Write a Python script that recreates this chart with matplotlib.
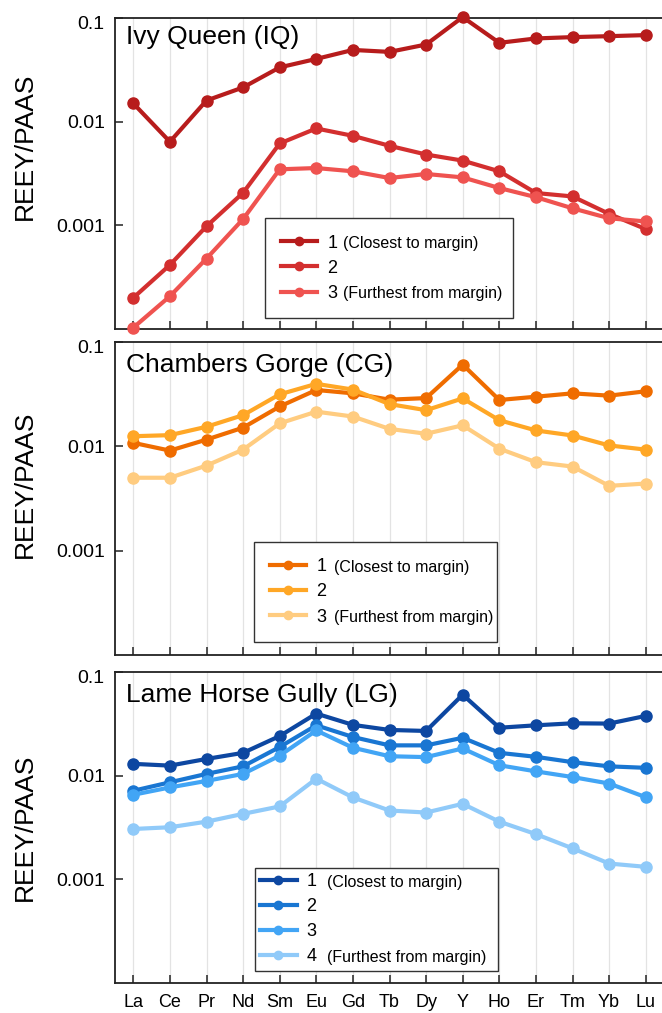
import matplotlib
matplotlib.use("Agg")
import matplotlib.pyplot as plt

plt.rcParams['font.family'] = ['Liberation Sans', 'DejaVu Sans']

# REE + Y normalised to PAAS
elements = ["La", "Ce", "Pr", "Nd", "Sm", "Eu", "Gd", "Tb", "Dy", "Y",
            "Ho", "Er", "Tm", "Yb", "Lu"]

y_ticks = [0.001, 0.01, 0.1]
y_tick_labels = ["0.001", "0.01", "0.1"]

# Ivy Queen (IQ)
iq_1 = [0.015, 0.0064, 0.016, 0.0214, 0.0334, 0.0403, 0.0492, 0.0471, 0.0555,
        0.102, 0.0576, 0.0635, 0.0654, 0.0668, 0.0684]
iq_2 = [0.0002, 0.000415, 0.00098, 0.00206, 0.00616, 0.0086, 0.0073, 0.00585,
        0.00482, 0.00421, 0.00332, 0.00205, 0.0019, 0.00129, 0.00092]
iq_3 = [0.000103, 0.000207, 0.000478, 0.00115, 0.00347, 0.00357, 0.00332,
        0.00286, 0.00313, 0.0029, 0.00229, 0.00187, 0.00146, 0.00117, 0.00109]

# Chambers Gorge (CG)
cg_1 = [0.0108, 0.0091, 0.0116, 0.0151, 0.0241, 0.0347, 0.0322, 0.028, 0.029,
        0.0607, 0.0278, 0.0299, 0.0322, 0.0306, 0.0337]
cg_2 = [0.0125, 0.0128, 0.0154, 0.0199, 0.0315, 0.0397, 0.035, 0.0254, 0.0222,
        0.0288, 0.0178, 0.0142, 0.0127, 0.0102, 0.0093]
cg_3 = [0.005, 0.005, 0.00654, 0.0093, 0.0166, 0.0215, 0.0193, 0.0147, 0.0132,
        0.0159, 0.0095, 0.00705, 0.0064, 0.00418, 0.0044]

# Lame Horse Gully (LG)
lg_1 = [0.013, 0.0125, 0.0145, 0.0166, 0.0241, 0.0397, 0.0309, 0.0276, 0.027,
        0.0604, 0.029, 0.0306, 0.032, 0.0318, 0.0377]
lg_2 = [0.00715, 0.00863, 0.0104, 0.0123, 0.0189, 0.0306, 0.0236, 0.0196,
        0.0196, 0.0232, 0.0166, 0.0152, 0.0135, 0.0123, 0.0119]
lg_3 = [0.00654, 0.0077, 0.0089, 0.0104, 0.0156, 0.0273, 0.0186, 0.0154,
        0.0151, 0.0183, 0.0126, 0.011, 0.0097, 0.0084, 0.0062]
lg_4 = [0.00306, 0.00318, 0.0036, 0.00428, 0.00505, 0.00935, 0.00617, 0.00461,
        0.00441, 0.00535, 0.0036, 0.00273, 0.00199, 0.00142, 0.00132]

panels = [
    dict(title="Ivy Queen (IQ)", series=[iq_1, iq_2, iq_3],
         labels=["1", "2", "3"],
         notes=["(Closest to margin)", None, "(Furthest from margin)"],
         colors=["#b71c1c", "#d32f2f", "#ef5350"],
         rect=[115 / 662, 1 - 329 / 1013, 549 / 662, 311 / 1013],
         title_off=-5, ylabel_y=0.588,
         leg_box=(0.273, 0.035, 0.452), leg_pad=0.9, note_dx=11.5),
    dict(title="Chambers Gorge (CG)", series=[cg_1, cg_2, cg_3],
         labels=["1", "2", "3"],
         notes=["(Closest to margin)", None, "(Furthest from margin)"],
         colors=["#ef6c00", "#ffa726", "#ffcc80"],
         rect=[115 / 662, 1 - 655 / 1013, 549 / 662, 313 / 1013],
         title_off=-8, ylabel_y=0.546,
         leg_box=(0.253, 0.042, 0.443), leg_pad=0.9, note_dx=13),
    dict(title="Lame Horse Gully (LG)", series=[lg_1, lg_2, lg_3, lg_4],
         labels=["1", "2", "3", "4"],
         notes=["(Closest to margin)", None, None, "(Furthest from margin)"],
         colors=["#0d47a1", "#1976d2", "#42a5f5", "#90caf9"],
         rect=[115 / 662, 1 - 983 / 1013, 549 / 662, 311 / 1013],
         title_off=-8, ylabel_y=0.5,
         leg_box=(0.255, 0.039, 0.443), leg_pad=0.3, note_dx=15),
]

fig = plt.figure(figsize=(6.62, 10.13), dpi=100)
x = list(range(len(elements)))

for i, p in enumerate(panels):
    ax = fig.add_axes(p["rect"])
    ax.set_yscale("log")
    for vals, lab, col in zip(p["series"], p["labels"], p["colors"]):
        ax.plot(x, vals, "-o", color=col, lw=3, ms=8, label=lab,
                clip_on=False, zorder=3)

    ax.set_xlim(-0.5, len(elements) - 0.5)
    ax.set_ylim(1e-4, 0.1)
    ax.set_xticks(x)
    if i == len(panels) - 1:
        ax.set_xticklabels(elements, fontsize=13)
    else:
        ax.set_xticklabels([])
    ax.set_yticks(y_ticks)
    ax.set_yticklabels(y_tick_labels[:-1] + [""], fontsize=14)
    ax.minorticks_off()
    # top tick label sits a little below the frame
    ax.annotate(y_tick_labels[-1], xy=(0, y_ticks[-1]),
                xycoords=("axes fraction", "data"), xytext=(-8, -4.5),
                textcoords="offset points", ha="right", va="center",
                fontsize=14)

    ax.tick_params(axis="both", direction="in", length=6, width=1.1,
                   color="#222222")
    ax.tick_params(axis="x", pad=8)
    ax.tick_params(axis="y", pad=7)
    ax.grid(axis="x", color="#e3e3e3", lw=0.9)
    ax.grid(axis="y", visible=False)
    ax.set_axisbelow(True)
    for s in ax.spines.values():
        s.set_color("#222222")
        s.set_linewidth(1.3)

    ax.set_ylabel("REEY/PAAS", fontsize=19)
    ax.yaxis.set_label_coords(-0.143, p["ylabel_y"])

    ax.annotate(p["title"], xy=(0, 1), xycoords="axes fraction",
                xytext=(8, p["title_off"]), textcoords="offset points",
                ha="left", va="top", fontsize=19)

    x0, y0, w = p["leg_box"]
    leg = ax.legend(loc="lower left", bbox_to_anchor=(x0, y0, w, 0.3),
                    mode="expand", borderaxespad=0, fontsize=13,
                    handlelength=2.0, handletextpad=0.55, labelspacing=0.45,
                    borderpad=p["leg_pad"], markerscale=0.75,
                    fancybox=False, framealpha=1, edgecolor="#333333")
    leg.get_frame().set_linewidth(1.0)
    leg.set_zorder(5)
    for txt, note in zip(leg.get_texts(), p["notes"]):
        if note:
            ax.annotate(note, xy=(0, 0), xycoords=txt,
                        xytext=(p["note_dx"], 0.3), textcoords="offset points",
                        ha="left", va="bottom", fontsize=11.5, zorder=10)

fig.savefig("out.png", dpi=100)
